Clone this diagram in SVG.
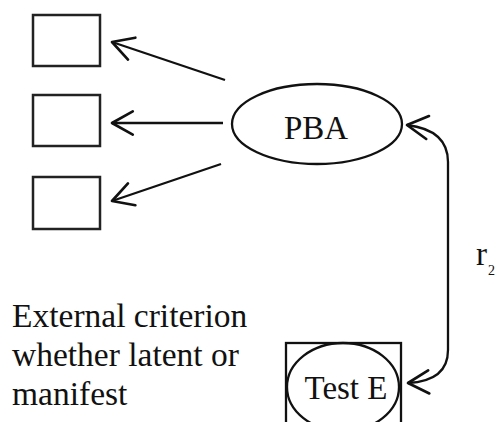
<svg xmlns="http://www.w3.org/2000/svg" width="499" height="422" viewBox="0 0 499 422">
  <style>
    .box { fill: #fff; stroke: #222; stroke-width: 2.5; }
    .shape { fill: none; stroke: #111; stroke-width: 2.3; }
    .edge { fill: none; stroke: #111; stroke-width: 2.3; }
    .lbl { font-family: "Liberation Serif", "Times New Roman", serif; fill: #111; }
  </style>
  <defs>
    <marker id="open-arrow" markerUnits="userSpaceOnUse" markerWidth="30" markerHeight="30" viewBox="-22 -13 26 26" refX="0" refY="0" orient="auto-start-reverse" overflow="visible">
      <path d="M-18,-10 L0,0 L-18,10" fill="none" stroke="#111" stroke-width="2.3" stroke-linecap="round" stroke-linejoin="round"/>
    </marker>
  </defs>

  <rect width="499" height="422" fill="#fff"/>

  <!-- indicators -->
  <g id="indicator-1"><rect class="box" x="33" y="15" width="67" height="51"/></g>
  <g id="indicator-2"><rect class="box" x="33" y="95" width="67" height="51"/></g>
  <g id="indicator-3"><rect class="box" x="33" y="177" width="67" height="52"/></g>

  <!-- latent factor -->
  <g id="pba">
    <ellipse class="shape" cx="317" cy="124" rx="85" ry="40"/>
    <text class="lbl" x="316" y="139" font-size="33" text-anchor="middle">PBA</text>
  </g>

  <!-- criterion -->
  <g id="test-e">
    <rect class="shape" x="286" y="343" width="115" height="90"/>
    <ellipse class="shape" cx="343" cy="387" rx="56" ry="44"/>
    <text class="lbl" x="346" y="399" font-size="33" text-anchor="middle">Test E</text>
  </g>

  <!-- connectors -->
  <g id="connectors">
    <line class="edge" x1="225" y1="80" x2="112" y2="42" marker-end="url(#open-arrow)"/>
    <line class="edge" x1="223" y1="123" x2="112" y2="123" marker-end="url(#open-arrow)"/>
    <line class="edge" x1="221" y1="164" x2="112" y2="201" marker-end="url(#open-arrow)"/>
    <path class="edge" d="M407,125 Q448,130 448,162 L448,350 Q448,381 408,383" marker-start="url(#open-arrow)" marker-end="url(#open-arrow)"/>
  </g>

  <!-- correlation label -->
  <text class="lbl" x="476" y="265" font-size="33">r</text>
  <text class="lbl" x="488" y="275" font-size="14">2</text>

  <!-- caption -->
  <g id="caption" class="lbl" font-size="33.5">
    <text x="12" y="327">External criterion</text>
    <text x="12" y="366">whether latent or</text>
    <text x="12" y="405">manifest</text>
  </g>
</svg>
